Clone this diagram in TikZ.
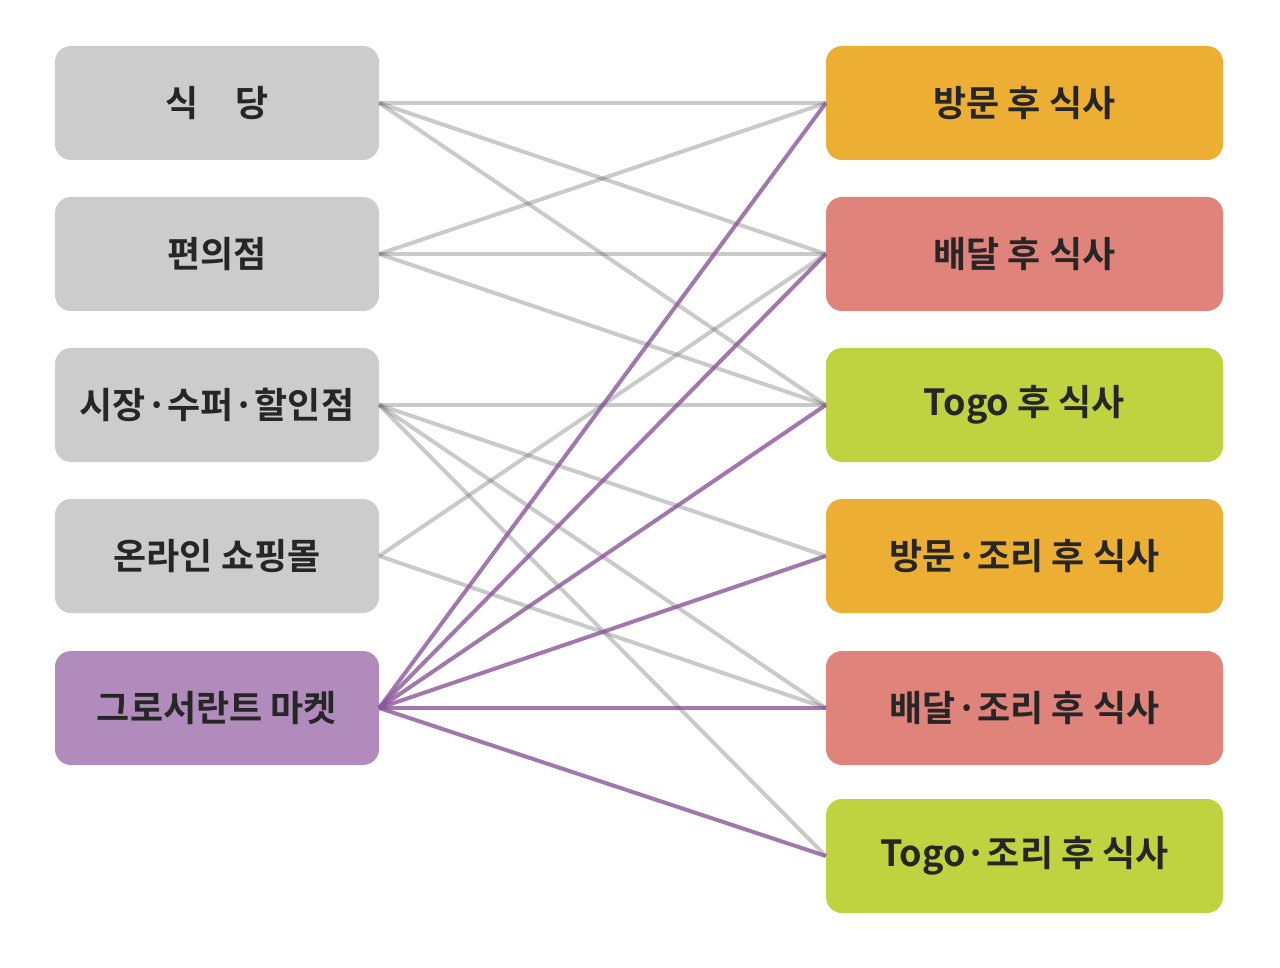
\documentclass[tikz,border=0pt]{standalone}
\usepackage{fontspec}
\setmainfont{Noto Sans CJK KR}[BoldFont={* Bold}]
\definecolor{gbox}{HTML}{CCCCCC}
\definecolor{pbox}{HTML}{B08BBB}
\definecolor{obox}{HTML}{ECAE33}
\definecolor{rbox}{HTML}{E0837A}
\definecolor{lbox}{HTML}{BFD23F}
\definecolor{pline}{HTML}{8A559A}
\begin{document}
\begin{tikzpicture}[x=1pt,y=-1pt,
  bx/.style={rounded corners=16pt,minimum height=114pt,inner sep=0pt,font=\fontsize{36}{40}\selectfont\bfseries,text=black!85},
  lb/.style={bx,minimum width=324pt},
  rb/.style={bx,minimum width=397pt},
  gl/.style={draw=black!60,line width=4pt,opacity=0.35},
  pl/.style={draw=pline,line width=4pt,opacity=0.8}]
\useasboundingbox (0,0) rectangle (1280,968);
\node[lb,fill=gbox] (L1) at (217,103) {식\hspace{1em}당};
\node[lb,fill=gbox] (L2) at (217,254) {편의점};
\node[lb,fill=gbox] (L3) at (217,405) {시장·수퍼·할인점};
\node[lb,fill=gbox] (L4) at (217,556) {온라인 쇼핑몰};
\node[lb,fill=pbox] (L5) at (217,708) {그로서란트 마켓};
\node[rb,fill=obox] (R1) at (1024.5,103) {방문 후 식사};
\node[rb,fill=rbox] (R2) at (1024.5,254) {배달 후 식사};
\node[rb,fill=lbox] (R3) at (1024.5,405) {Togo 후 식사};
\node[rb,fill=obox] (R4) at (1024.5,556) {방문·조리 후 식사};
\node[rb,fill=rbox] (R5) at (1024.5,708) {배달·조리 후 식사};
\node[rb,fill=lbox] (R6) at (1024.5,856) {Togo·조리 후 식사};
\foreach \a/\b in {L1/R1,L1/R2,L1/R3,L2/R1,L2/R2,L2/R3,L3/R3,L3/R4,L3/R5,L3/R6,L4/R2,L4/R5}
  \draw[gl] (\a.east) -- (\b.west);
\foreach \b in {R1,R2,R3,R4,R5,R6}
  \draw[pl] (L5.east) -- (\b.west);
\end{tikzpicture}
\end{document}
